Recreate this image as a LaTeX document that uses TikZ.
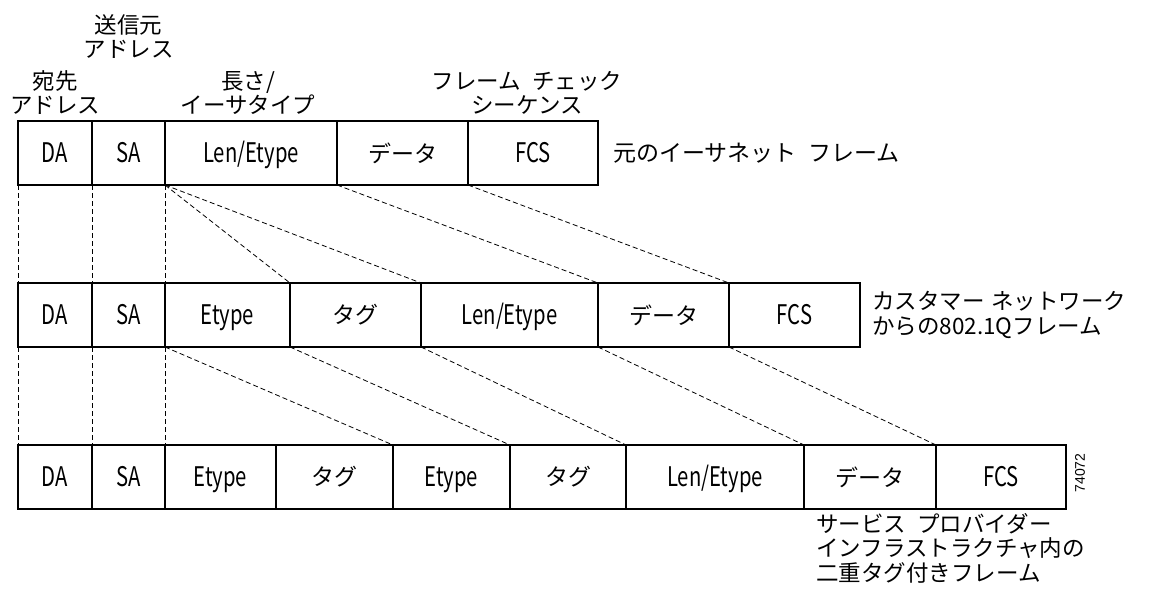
\documentclass[tikz,border=0pt]{standalone}
\usepackage{fontspec}
\newfontfamily\jpfont{Noto Sans CJK JP}
\newfontfamily\latfont[FakeStretch=0.75]{Noto Sans CJK JP}
\newfontfamily\idfont{Liberation Sans}
\usetikzlibrary{positioning}
\tikzset{
  field/.style={draw, line width=1.1pt, minimum height=64pt, inner sep=0pt, outer sep=0pt,
    anchor=west, font=\jpfont\fontsize{23}{24}\selectfont},
  latn/.style={font=\latfont\fontsize{27}{24}\selectfont, text height=18pt, text depth=0pt},
  guide/.style={line width=0.8pt, dash pattern=on 5pt off 3pt},
  head/.style={font=\jpfont\fontsize{22.5}{24}\selectfont, align=center, inner sep=0pt},
  caption/.style={font=\jpfont\fontsize{23}{24.5}\selectfont, align=left, inner sep=0pt}
}
\begin{document}
\begin{tikzpicture}[x=1pt,y=-1pt]
\useasboundingbox (0,0) rectangle (1161,591);
% original frame
\node[field,latn,minimum width=74pt] (da1) at (18,153) {DA};
\node[field,latn,minimum width=73pt,right=0pt of da1] (sa1) {SA};
\node[field,latn,minimum width=172pt,right=0pt of sa1] (len1) {Len/Etype};
\node[field,minimum width=131pt,right=0pt of len1] (data1) {データ};
\node[field,latn,minimum width=130pt,right=0pt of data1] (fcs1) {FCS};
\node[caption,right=15pt of fcs1] (cap1) {元のイーサネット\hspace{0.5em}フレーム};
\node[head,above=6pt of da1] (hda) {宛先\\アドレス};
\node[head,above=62pt of sa1] (hsa) {送信元\\アドレス};
\node[head,above=6pt of len1,xshift=-3pt] (hlen) {長さ/\\イーサタイプ};
\node[head,above=6pt of fcs1,xshift=-6pt] (hfcs) {フレーム\hspace{0.5em}チェック\\シーケンス};
% 802.1Q frame
\node[field,latn,minimum width=74pt] (da2) at (18,315) {DA};
\node[field,latn,minimum width=73pt,right=0pt of da2] (sa2) {SA};
\node[field,latn,minimum width=125pt,right=0pt of sa2] (et2) {Etype};
\node[field,minimum width=131pt,right=0pt of et2] (tag2) {タグ};
\node[field,latn,minimum width=177pt,right=0pt of tag2] (len2) {Len/Etype};
\node[field,minimum width=131pt,right=0pt of len2] (data2) {データ};
\node[field,latn,minimum width=131pt,right=0pt of data2] (fcs2) {FCS};
\node[caption,right=12pt of fcs2,font=\jpfont\fontsize{22.5}{24.5}\selectfont] (cap2) {カスタマー\hspace{0.3em}ネットワーク\\からの802.1Qフレーム};
% double-tagged frame
\node[field,latn,minimum width=74pt] (da3) at (18,477) {DA};
\node[field,latn,minimum width=73pt,right=0pt of da3] (sa3) {SA};
\node[field,latn,minimum width=111pt,right=0pt of sa3] (eta3) {Etype};
\node[field,minimum width=117pt,right=0pt of eta3] (taga3) {タグ};
\node[field,latn,minimum width=117pt,right=0pt of taga3] (etb3) {Etype};
\node[field,minimum width=116pt,right=0pt of etb3] (tagb3) {タグ};
\node[field,latn,minimum width=178pt,right=0pt of tagb3] (len3) {Len/Etype};
\node[field,minimum width=132pt,right=0pt of len3] (data3) {データ};
\node[field,latn,minimum width=130pt,right=0pt of data3] (fcs3) {FCS};
\node[caption,anchor=north west,font=\jpfont\fontsize{22.5}{24.5}\selectfont] (cap3) at ([xshift=12pt,yshift=-4pt]data3.south west)
  {サービス\hspace{0.5em}プロバイダー\\インフラストラクチャ内の\\二重タグ付きフレーム};
\node[rotate=90,inner sep=0pt,font=\idfont\fontsize{14}{14}\selectfont] (figid) at (1080,473) {74072};
% guides 1 -> 2
\draw[guide] (da1.south west) -- (da2.north west);
\draw[guide] (sa1.south west) -- (sa2.north west);
\draw[guide] (len1.south west) -- (et2.north west);
\draw[guide] (len1.south west) -- (tag2.north west);
\draw[guide] (len1.south west) -- (len2.north west);
\draw[guide] (data1.south west) -- (data2.north west);
\draw[guide] (fcs1.south west) -- (fcs2.north west);
% guides 2 -> 3
\draw[guide] (da2.south west) -- (da3.north west);
\draw[guide] (sa2.south west) -- (sa3.north west);
\draw[guide] (et2.south west) -- (eta3.north west);
\draw[guide] (et2.south west) -- (etb3.north west);
\draw[guide] (tag2.south west) -- (tagb3.north west);
\draw[guide] (len2.south west) -- (len3.north west);
\draw[guide] (data2.south west) -- (data3.north west);
\draw[guide] (fcs2.south west) -- (fcs3.north west);
\end{tikzpicture}
\end{document}
